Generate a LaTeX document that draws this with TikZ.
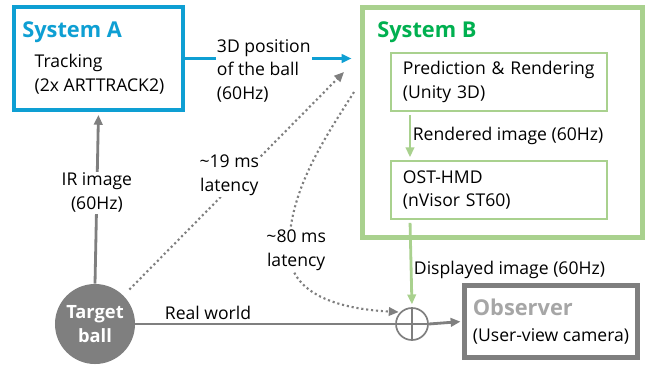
\documentclass[tikz,border=0pt]{standalone}
\usepackage{fontspec}
\setmainfont{Open Sans}
\usetikzlibrary{arrows.meta, positioning, calc}
\definecolor{sysablue}{HTML}{0E9FD3}
\definecolor{sysbgreen}{HTML}{00B050}
\definecolor{sysbline}{HTML}{A9D18E}
\definecolor{flowgray}{HTML}{7F7F7F}
\definecolor{obsgray}{HTML}{A6A6A6}

\begin{document}
\begin{tikzpicture}[
    x=0.025cm, y=-0.025cm,
    txt/.style={font=\fontsize{12.5}{17}\selectfont, text=black, align=left, inner sep=1pt},
    title/.style={font=\fontsize{15.5}{17}\selectfont\bfseries, inner sep=0pt, anchor=west},
    outerbox/.style={rectangle, fill=white, inner sep=0pt},
    innerbox/.style={
      rectangle, draw=sysbline, line width=1.4pt, fill=white,
      minimum height=1.45cm, inner xsep=0.3cm, inner ysep=0pt,
      text width=4.8cm, align=left, font=\fontsize{12.5}{17}\selectfont
    },
    bluearr/.style={-{Triangle[length=7pt,width=6pt]}, sysablue, line width=2pt},
    greenarr/.style={-{Triangle[length=7pt,width=6pt]}, sysbline, line width=2pt},
    grayarr/.style={-{Triangle[length=7pt,width=6pt]}, flowgray, line width=2pt},
    dotarr/.style={-{Triangle[length=7pt,width=6pt]}, flowgray, line width=1.5pt, dotted},
  ]

  \useasboundingbox (0,0) rectangle (652,364);

  % System A
  \node[outerbox, draw=sysablue, line width=2.8pt, minimum width=4.22cm, minimum height=2.58cm] (sysA) at (98.5,58.5) {};
  \node[title, text=sysablue] (titleA) at (22,32) {System A};
  \node[txt, anchor=west] (track) at (33,74) {Tracking\\(2x ARTTRACK2)};

  % System B
  \node[outerbox, draw=sysbline, line width=3.5pt, minimum width=7cm, minimum height=5.75cm] (sysB) at (502.5,122.5) {};
  \node[title, text=sysbgreen] (titleB) at (377,32) {System B};
  \node[innerbox] (pred) at (499,82) {Prediction \& Rendering\\(Unity 3D)};
  \node[innerbox, below=1.2cm of pred] (hmd) {OST-HMD\\(nVisor ST60)};

  % Target, mixer and observer
  \node[circle, fill=flowgray, minimum size=2cm, inner sep=0pt, text=white, align=center,
        font=\fontsize{13}{16.5}\selectfont\bfseries] (ball) at (95,324) {Target\\ball};
  \node[circle, draw=flowgray, line width=1.2pt, minimum size=0.8cm, inner sep=0pt] (oplus) at (412,324) {};
  \draw[flowgray, line width=1.2pt] (oplus.north) -- (oplus.south) (oplus.west) -- (oplus.east);
  \node[outerbox, draw=flowgray, line width=3.5pt, minimum width=4.33cm, minimum height=1.8cm,
        align=left, font=\fontsize{12.5}{17}\selectfont] (observer) at (551,321.5)
        {{\fontsize{15.5}{17}\selectfont\bfseries\color{obsgray}Observer}\\[1pt](User-view camera)};

  \coordinate (lat19) at (344,72);
  \coordinate (lat80) at (354,92);

  % Arrows
  \draw[bluearr, shorten >=6pt] (sysA.east) -- (sysA.east -| sysB.west)
    node[txt, fill=white, anchor=west, pos=0.167, yshift=-0.31cm] (poslbl) {3D position\\of the ball\\(60Hz)};
  \draw[greenarr, shorten <=2pt, shorten >=2pt] ([xshift=0.5cm]pred.south west) -- ([xshift=0.5cm]hmd.north west)
    node[txt, midway, right] (rendlbl) {Rendered image (60Hz)};
  \draw[greenarr, shorten <=2pt, shorten >=2pt] ([xshift=0.5cm]hmd.south west) -- (oplus.north)
    node[txt, pos=0.57, right] (displbl) {Displayed image (60Hz)};
  \draw[grayarr, shorten >=2pt] (ball.north) -- (sysA.south)
    node[txt, pos=0.53, fill=white, align=center] (irlbl) {IR image\\(60Hz)};
  \draw[flowgray, line width=2pt] (ball.east) -- (oplus.west)
    node[txt, pos=0.28, above=1pt] (reallbl) {Real world};
  \draw[grayarr, shorten >=1pt] (oplus.east) -- (observer.west);

  % Latency paths
  \draw[dotarr, shorten <=6pt] (ball.north east) -- (lat19)
    node[txt, pos=0.48, yshift=0.32cm, fill=white, align=center] (lat19lbl) {\textasciitilde19 ms\\latency};
  \draw[dotarr, shorten >=1pt] (lat80) .. controls (325,138) and (289,190) .. (289,250)
    node[txt, xshift=0.18cm, fill=white, align=center] (lat80lbl) {\textasciitilde80 ms\\latency}
    .. controls (289,295) and (340,309) .. (oplus.north west);

\end{tikzpicture}
\end{document}
